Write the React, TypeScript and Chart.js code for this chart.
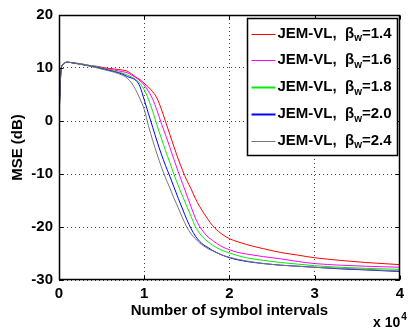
import React, { useEffect, useRef } from "react";
import { Chart, registerables } from "chart.js";

Chart.register(...registerables);

// Number of symbol intervals
const xValues = [0, 100, 250, 500, 900, 1500, 2500, 3500, 4500, 5500, 6500, 7500, 8000, 8500, 9000, 9500, 10000, 10500, 11000, 11500, 12000, 12500, 13000, 13500, 14000, 14500, 15000, 15500, 16000, 16500, 17000, 17500, 18000, 19000, 20000, 21000, 22000, 24000, 26000, 28000, 30000, 33000, 36000, 40000];

// MSE (dB) for each beta_w
const mse14 = [0, 5, 9.8, 10.7, 11.1, 11.0, 10.8, 10.5, 10.3, 10.0, 9.8, 9.6, 9.4, 8.9, 8.3, 7.8, 7.1, 6.4, 5.5, 4.3, 2.3, -0.1, -2.5, -4.9, -7.2, -9.3, -11.2, -12.8, -14.6, -16.1, -17.4, -18.6, -19.7, -21.2, -22.2, -22.8, -23.3, -24.1, -24.8, -25.3, -25.8, -26.3, -26.7, -27.1];
const mse16 = [0, 5, 9.8, 10.7, 11.1, 11.0, 10.8, 10.5, 10.2, 9.9, 9.6, 9.3, 9.1, 8.7, 8.2, 7.6, 6.8, 5.6, 4.1, 2.0, -0.4, -2.6, -4.9, -7.3, -9.6, -11.8, -14.0, -16.2, -18.3, -19.9, -21.0, -21.9, -22.5, -23.6, -24.3, -24.8, -25.1, -25.6, -26.0, -26.5, -26.9, -27.2, -27.4, -27.6];
const mse18 = [0, 5, 9.8, 10.7, 11.1, 11.0, 10.8, 10.5, 10.2, 9.8, 9.4, 9.0, 8.7, 8.3, 7.8, 7.1, 5.9, 4.1, 1.8, -0.8, -3.2, -5.6, -7.8, -10.1, -12.2, -14.2, -16.1, -18.0, -19.9, -21.2, -22.1, -22.8, -23.4, -24.3, -24.9, -25.4, -25.8, -26.3, -26.7, -27.0, -27.3, -27.6, -27.8, -28.0];
const mse20 = [0, 5, 9.8, 10.7, 11.1, 11.0, 10.7, 10.4, 10.1, 9.7, 9.3, 8.8, 8.4, 8.1, 7.7, 6.5, 4.0, 1.4, -1.2, -3.8, -6.2, -8.4, -10.4, -12.5, -14.6, -16.6, -18.6, -20.3, -21.7, -22.7, -23.4, -23.9, -24.4, -25.2, -25.8, -26.2, -26.5, -26.9, -27.2, -27.4, -27.6, -27.9, -28.1, -28.4];
const mse24 = [0, 5, 9.8, 10.7, 11.1, 11.0, 10.7, 10.4, 10.0, 9.6, 9.2, 8.6, 8.1, 7.2, 5.9, 4.2, 2.2, -0.9, -3.7, -6.2, -8.6, -10.7, -12.6, -14.6, -16.4, -18.3, -20.0, -21.3, -22.2, -23.0, -23.6, -24.1, -24.5, -25.2, -25.7, -26.1, -26.4, -26.9, -27.2, -27.4, -27.6, -27.8, -28.0, -28.3];

const betaLabels = ["1.4", "1.6", "1.8", "2.0", "2.4"];
const seriesValues = [mse14, mse16, mse18, mse20, mse24];
const seriesColors = ["#ff0000", "#ff00ff", "#00ee00", "#0000ff", "#777777"];
const legendWidths = [1, 1, 2, 2, 1];

const xTickValues = [0, 10000, 20000, 30000, 40000];
const yTickValues = [-30, -20, -10, 0, 10, 20];
const xTitle = "Number of symbol intervals";
const yTitle = "MSE (dB)";
const seriesName = "JEM-VL,  \u03b2";

const FONT = "'Liberation Sans', Arial, Helvetica, sans-serif";

const decorPlugin = {
  id: "decor",
  afterDraw(chart: any) {
    const { ctx, chartArea: a, scales } = chart;
    const L = Math.round(a.left) + 0.5;
    const R = Math.round(a.right) - 0.5;
    const T = Math.round(a.top) + 0.5;
    const B = Math.round(a.bottom) - 0.5;
    ctx.save();
    ctx.strokeStyle = "#000";
    ctx.lineWidth = 1;
    ctx.setLineDash([]);
    // inward ticks
    ctx.beginPath();
    for (const v of xTickValues) {
      const x = Math.round(scales.x.getPixelForValue(v)) + 0.5;
      ctx.moveTo(x, B); ctx.lineTo(x, B - 4);
      ctx.moveTo(x, T); ctx.lineTo(x, T + 4);
    }
    for (const v of yTickValues) {
      const y = Math.round(scales.y.getPixelForValue(v)) + 0.5;
      ctx.moveTo(L, y); ctx.lineTo(L + 4, y);
      ctx.moveTo(R, y); ctx.lineTo(R - 4, y);
    }
    ctx.stroke();
    // frame
    ctx.lineWidth = 1.5;
    ctx.strokeRect(L, T, R - L, B - T);

    // legend
    const bx = Math.round(a.right) - 152.5;
    const by = Math.round(a.top) + 3.5;
    const bw = 150;
    const bh = 137;
    ctx.fillStyle = "#fff";
    ctx.fillRect(bx, by, bw, bh);
    ctx.lineWidth = 1.5;
    ctx.strokeStyle = "#000";
    ctx.strokeRect(bx, by, bw, bh);
    ctx.textBaseline = "middle";
    ctx.textAlign = "left";
    for (let i = 0; i < betaLabels.length; i++) {
      const cy = by + 15 + i * 26.8;
      ctx.strokeStyle = seriesColors[i];
      ctx.lineWidth = legendWidths[i];
      ctx.beginPath();
      ctx.moveTo(bx + 4, Math.round(cy) + 0.5);
      ctx.lineTo(bx + 28, Math.round(cy) + 0.5);
      ctx.stroke();
      ctx.fillStyle = "#000";
      ctx.font = `bold 15px ${FONT}`;
      let tx = bx + 30;
      ctx.fillText(seriesName, tx, cy);
      tx += ctx.measureText(seriesName).width;
      ctx.font = `bold 10px ${FONT}`;
      ctx.fillText("w", tx, cy + 5);
      tx += ctx.measureText("w").width;
      ctx.font = `bold 15px ${FONT}`;
      ctx.fillText("=" + betaLabels[i], tx, cy);
    }

    // x 10^4 exponent label
    ctx.fillStyle = "#000";
    ctx.textBaseline = "alphabetic";
    ctx.font = `bold 14px ${FONT}`;
    const ex = 373;
    ctx.fillText("x 10", ex, 327);
    const w = ctx.measureText("x 10").width;
    ctx.font = `bold 10px ${FONT}`;
    ctx.fillText("4", ex + w + 1, 320);
    ctx.restore();
  },
};

export default function App() {
  const canvasRef = useRef<HTMLCanvasElement | null>(null);

  useEffect(() => {
    const canvas = canvasRef.current;
    if (!canvas) return;
    const datasets = seriesValues.map((vals, i) => ({
      label: "JEM-VL, \u03b2w=" + betaLabels[i],
      data: xValues.map((x, j) => ({ x, y: vals[j] })),
      borderColor: seriesColors[i],
      backgroundColor: seriesColors[i],
      borderWidth: 1,
      pointRadius: 0,
      tension: 0,
      cubicInterpolationMode: "monotone" as const,
      fill: false,
      order: betaLabels.length - i,
    }));
    const chart = new Chart(canvas, {
      type: "line",
      data: { datasets },
      options: {
        responsive: false,
        animation: false,
        devicePixelRatio: 1,
        layout: { padding: { top: 7, right: 2, left: 0, bottom: 0 } },
        plugins: { legend: { display: false }, tooltip: { enabled: false }, title: { display: false } },
        scales: {
          x: {
            type: "linear",
            min: 0,
            max: 40000,
            afterFit: (s: any) => { s.height = 48; },
            afterBuildTicks: (s: any) => { s.ticks = xTickValues.map((v) => ({ value: v })); },
            ticks: {
              color: "#000",
              font: { family: FONT, size: 15, weight: "bold" },
              padding: 5,
              maxRotation: 0,
              autoSkip: false,
              callback: (v: any) => String(Number(v) / 10000),
            },
            grid: { color: "rgba(0,0,0,0.75)", drawTicks: false, lineWidth: 1 },
            border: { display: false, dash: [1, 3] },
            title: {
              display: true,
              text: xTitle,
              color: "#000",
              font: { family: FONT, size: 15, weight: "bold" },
              padding: { top: 0, bottom: 8 },
            },
          },
          y: {
            type: "linear",
            min: -30,
            max: 20,
            afterFit: (s: any) => { s.width = 59; },
            afterBuildTicks: (s: any) => { s.ticks = yTickValues.map((v) => ({ value: v })); },
            ticks: {
              color: "#000",
              font: { family: FONT, size: 15, weight: "bold" },
              padding: 6,
              autoSkip: false,
            },
            grid: { color: "rgba(0,0,0,0.75)", drawTicks: false, lineWidth: 1 },
            border: { display: false, dash: [1, 3] },
            title: {
              display: true,
              text: yTitle,
              color: "#000",
              font: { family: FONT, size: 15, weight: "bold" },
              padding: { top: 9, bottom: 0 },
            },
          },
        },
      },
      plugins: [decorPlugin],
    });
    return () => chart.destroy();
  }, []);

  return (
    <div style={{ position: "fixed", left: 0, top: 0, width: 409, height: 328, background: "#fff" }}>
      <canvas ref={canvasRef} width={409} height={328} style={{ width: 409, height: 328, display: "block" }} />
    </div>
  );
}
